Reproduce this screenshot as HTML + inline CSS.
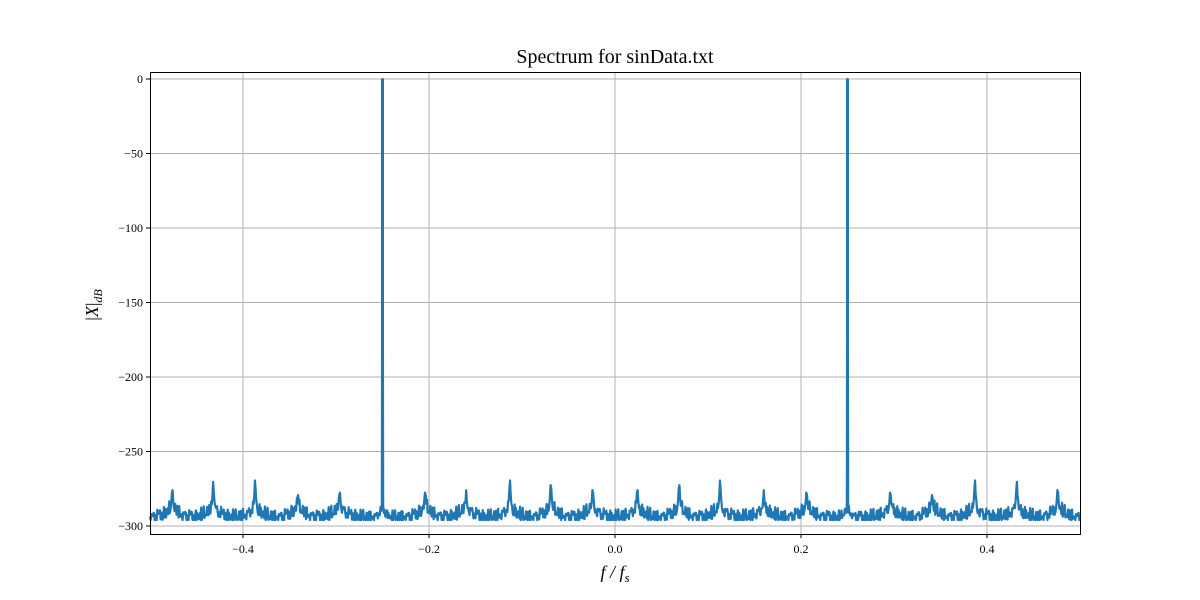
<!DOCTYPE html>
<html><head><meta charset="utf-8"><style>
body{margin:0;background:#fff;}
svg{display:block;font-family:"Liberation Serif",serif;}
</style></head><body>
<svg id="chart" width="1200" height="600">
<rect width="1200" height="600" fill="#fff"/>
<text x="615" y="63" font-size="20" text-anchor="middle">Spectrum for sinData.txt</text>
<g id="grid"></g>
<g id="series"></g>
<rect x="150.5" y="72.5" width="930" height="462" fill="none" stroke="#000" stroke-width="1"/>
<g id="ticks"></g>
<text x="615" y="578" font-size="18" font-style="italic" text-anchor="middle">f / f<tspan font-size="13" dy="4">s</tspan></text>
<text transform="translate(98,305) rotate(-90)" font-size="18" text-anchor="middle">|<tspan font-style="italic">X</tspan>|<tspan font-size="12" font-style="italic" dy="4">dB</tspan></text>
</svg>
<script>
const xTicks=[-0.4,-0.2,0.0,0.2,0.4];
const xTickLabels=["−0.4","−0.2","0.0","0.2","0.4"];
const yTicks=[0,-50,-100,-150,-200,-250,-300];
const yTickLabels=["0","−50","−100","−150","−200","−250","−300"];
const toneFreqs=[-0.25,0.25];
const toneLevels=[0,0];
const peakFreqs=[-0.476,-0.432,-0.387,-0.341,-0.296,-0.204,-0.160,-0.113,-0.069,-0.024,0.024,0.069,0.113,0.160,0.206,0.296,0.341,0.387,0.432,0.476];
const peakLevels=[-272,-268,-267,-276,-274,-274,-276,-267,-268,-272,-272,-268,-267,-276,-274,-274,-276,-267,-268,-272];
const noiseFloor=-296;
const noisePattern=[3,-2,5,-1,-3,2,6,-2,0,4,-3,1,5,-2,7,0,-3,3,1,-2,4,-3,-1,6,2,-2,3,-3,0,5,-1,2,6,-3,-1,3,1,-2,4,0,-3,2,7,-2,1,-3,3,0];

const X0=150,X1=1080,Y0=72,Y1=534;
const xs=f=>X0+(f+0.5)*(X1-X0);
const ys=v=>79+(-v)*(447/300);
const NS="http://www.w3.org/2000/svg";
const grid=document.getElementById('grid'),ticks=document.getElementById('ticks'),ser=document.getElementById('series');
xTicks.forEach((t,i)=>{
  const x=xs(t);
  const g=document.createElementNS(NS,'line');
  g.setAttribute('x1',x);g.setAttribute('x2',x);g.setAttribute('y1',Y0);g.setAttribute('y2',Y1);
  g.setAttribute('stroke','#b0b0b0');g.setAttribute('stroke-width','1');
  
  
  grid.appendChild(g);
  const tk=document.createElementNS(NS,'line');
  tk.setAttribute('x1',x);tk.setAttribute('x2',x);tk.setAttribute('y1',Y1);tk.setAttribute('y2',Y1+4);
  tk.setAttribute('stroke','#000');
  
  
  ticks.appendChild(tk);
  const tx=document.createElementNS(NS,'text');
  tx.setAttribute('x',x);tx.setAttribute('y',Y1+19);tx.setAttribute('font-size','12');tx.setAttribute('text-anchor','middle');
  tx.textContent=xTickLabels[i];
  
  
  ticks.appendChild(tx);
});
yTicks.forEach((t,i)=>{
  const y=ys(t);
  const g=document.createElementNS(NS,'line');
  g.setAttribute('x1',X0);g.setAttribute('x2',X1);g.setAttribute('y1',y);g.setAttribute('y2',y);
  g.setAttribute('stroke','#b0b0b0');g.setAttribute('stroke-width','1');
  
  
  grid.appendChild(g);
  const tk=document.createElementNS(NS,'line');
  tk.setAttribute('x1',X0-4);tk.setAttribute('x2',X0);tk.setAttribute('y1',y);tk.setAttribute('y2',y);
  tk.setAttribute('stroke','#000');
  
  
  ticks.appendChild(tk);
  const tx=document.createElementNS(NS,'text');
  tx.setAttribute('x',X0-7);tx.setAttribute('y',y+4);tx.setAttribute('font-size','12');tx.setAttribute('text-anchor','end');
  tx.textContent=yTickLabels[i];
  
  
  ticks.appendChild(tx);
});
const N=1400;
let pts=[];
for(let i=0;i<=N;i++){
  const f=-0.5+i/N;
  const n1=noisePattern[i%noisePattern.length];
  const n2=noisePattern[(i*7+3)%noisePattern.length];
  let v=noiseFloor+n1*0.8;
  peakFreqs.forEach((pf,k)=>{
    const d=Math.abs(f-pf);
    const c=noiseFloor+(peakLevels[k]-noiseFloor)*Math.exp(-d/0.0016);
    const sk=noiseFloor+9*Math.exp(-d/0.009)+n2*0.9;
    v=Math.max(v,c,sk);
  });
  toneFreqs.forEach((tf,k)=>{
    const d=Math.abs(f-tf);
    if(d<0.0004) v=Math.max(v,toneLevels[k]);
    v=Math.max(v,noiseFloor+8*Math.exp(-d/0.005)+n2*0.6);
  });
  pts.push(xs(f).toFixed(2)+','+ys(v).toFixed(2));
}
const pl=document.createElementNS(NS,'polyline');
pl.setAttribute('points',pts.join(' '));
pl.setAttribute('fill','none');pl.setAttribute('stroke','#1f77b4');pl.setAttribute('stroke-width','2.2');pl.setAttribute('stroke-linejoin','round');


ser.appendChild(pl);
toneFreqs.forEach((tf,k)=>{
  const l=document.createElementNS(NS,'line');
  l.setAttribute('x1',xs(tf));l.setAttribute('x2',xs(tf));l.setAttribute('y1',ys(toneLevels[k]));l.setAttribute('y2',ys(noiseFloor+8));
  l.setAttribute('stroke','#1f77b4');l.setAttribute('stroke-width','3');
  
  
  ser.appendChild(l);
});
</script>
</body></html>
